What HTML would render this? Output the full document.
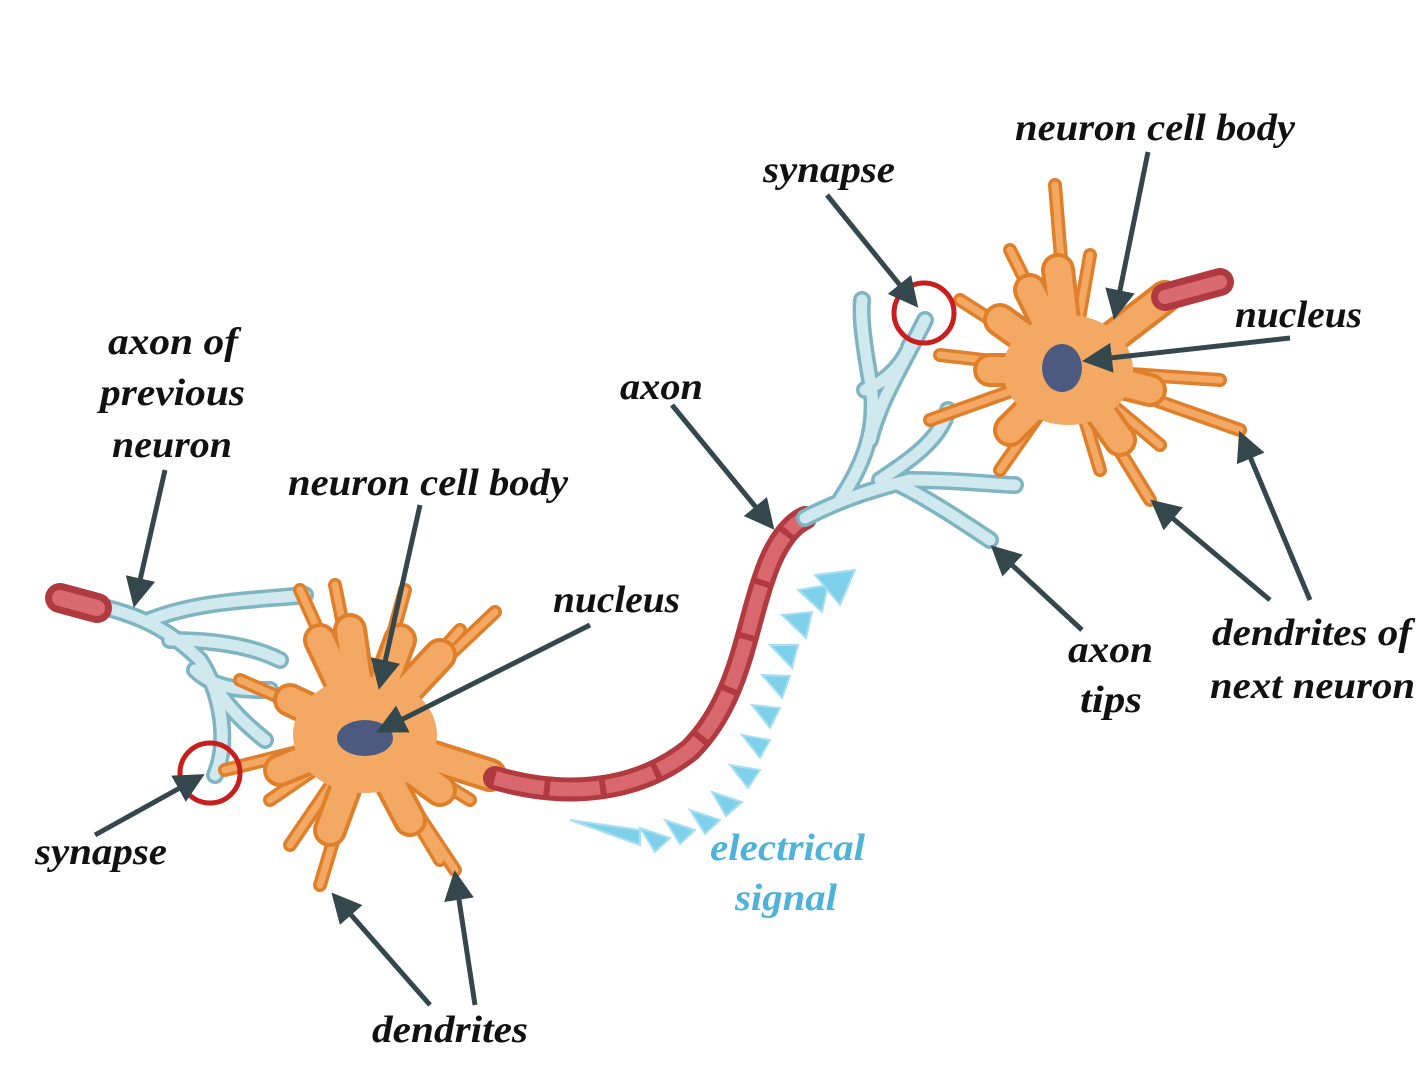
<!DOCTYPE html>
<html><head><meta charset="utf-8"><style>
html,body{margin:0;padding:0;background:#fff;}
svg{display:block}
text{font-family:"Liberation Serif",serif;font-weight:bold;font-style:italic;font-size:38px;fill:#111;}
.b{fill:#4fb3d9}
</style></head><body>
<svg width="1418" height="1075" viewBox="0 0 1418 1075" xmlns="http://www.w3.org/2000/svg">
<defs>
<marker id="ah" markerWidth="6" markerHeight="6" refX="4" refY="3" orient="auto" markerUnits="strokeWidth">
<path d="M0,0 L6,3 L0,6 z" fill="#34474c"/></marker>
</defs>

<g fill="none" stroke-linecap="round" stroke-linejoin="round">
<g stroke="#7fb5c2" stroke-width="18">
<path d="M95,605 C140,615 170,630 200,660 C220,690 230,740 215,775"/>
<path d="M150,620 C200,600 260,600 305,595"/>
<path d="M170,640 C210,640 250,645 280,660"/>
<path d="M200,660 C220,700 240,720 265,740"/>
<path d="M195,670 C215,690 245,690 270,690"/>
</g>
<g stroke="#cfe9ee" stroke-width="11">
<path d="M95,605 C140,615 170,630 200,660 C220,690 230,740 215,775"/>
<path d="M150,620 C200,600 260,600 305,595"/>
<path d="M170,640 C210,640 250,645 280,660"/>
<path d="M200,660 C220,700 240,720 265,740"/>
<path d="M195,670 C215,690 245,690 270,690"/>
</g>
<path d="M60,598 L97,608" stroke="#b03a40" stroke-width="30"/>
<path d="M60,598 L97,608" stroke="#d96a70" stroke-width="16"/>
</g>

<!-- left neuron -->
<g fill="none" stroke-linecap="round" stroke-linejoin="round">
<g stroke="#e07f2a" stroke-width="14">
<path d="M365,735 L300,590 M365,735 L335,585 M365,735 L405,590 M365,735 L495,612 M365,735 L460,630 M365,735 L240,680 M365,735 L225,770 M365,735 L320,885 M365,735 L290,845 M365,735 L440,860 M365,735 L455,870 M365,735 L470,800 M365,735 L270,800"/>
</g>
<g stroke="#f3a863" stroke-width="7">
<path d="M365,735 L300,590 M365,735 L335,585 M365,735 L405,590 M365,735 L495,612 M365,735 L460,630 M365,735 L240,680 M365,735 L225,770 M365,735 L320,885 M365,735 L290,845 M365,735 L440,860 M365,735 L455,870 M365,735 L470,800 M365,735 L270,800"/>
</g>
<g stroke="#e07f2a" stroke-width="34">
<path d="M365,735 L320,640 M365,735 L350,630 M365,735 L400,640 M365,735 L440,655 M365,735 L290,700 M365,735 L280,770 M365,735 L330,830 M365,735 L410,820 M365,735 L440,790 M365,735 L490,775"/>
</g>
<g stroke="#f3a863" stroke-width="26">
<path d="M365,735 L320,640 M365,735 L350,630 M365,735 L400,640 M365,735 L440,655 M365,735 L290,700 M365,735 L280,770 M365,735 L330,830 M365,735 L410,820 M365,735 L440,790 M365,735 L490,775"/>
</g>
</g>
<ellipse cx="365" cy="735" rx="72" ry="58" fill="#f3a863"/>
<ellipse cx="365" cy="738" rx="28" ry="18" fill="#4c5a80"/>

<!-- axon -->
<path d="M495,778 C570,800 640,790 690,750 C740,700 745,630 765,575 C775,545 790,525 805,518" fill="none" stroke="#b03a40" stroke-width="24" stroke-linecap="round"/>
<path d="M495,778 C570,800 640,790 690,750 C740,700 745,630 765,575 C775,545 790,525 805,518" fill="none" stroke="#d9686e" stroke-width="14" stroke-dasharray="50 6"/>

<g fill="none" stroke-linecap="round" stroke-linejoin="round">
<g stroke="#7fb5c2" stroke-width="18">
<path d="M805,518 C840,500 870,490 910,480 C960,480 1000,485 1015,485"/>
<path d="M840,500 C860,470 880,430 870,380 C865,350 860,320 862,300"/>
<path d="M870,440 C880,400 900,370 925,320"/>
<path d="M880,480 C910,460 940,440 948,410"/>
<path d="M900,485 C930,500 960,520 990,540"/>
<path d="M865,390 C890,380 905,360 910,345"/>
</g>
<g stroke="#cfe9ee" stroke-width="11">
<path d="M805,518 C840,500 870,490 910,480 C960,480 1000,485 1015,485"/>
<path d="M840,500 C860,470 880,430 870,380 C865,350 860,320 862,300"/>
<path d="M870,440 C880,400 900,370 925,320"/>
<path d="M880,480 C910,460 940,440 948,410"/>
<path d="M900,485 C930,500 960,520 990,540"/>
<path d="M865,390 C890,380 905,360 910,345"/>
</g>
</g>

<!-- right neuron -->
<g fill="none" stroke-linecap="round" stroke-linejoin="round">
<g stroke="#e07f2a" stroke-width="14">
<path d="M1070,370 L960,300 M1070,370 L1010,250 M1070,370 L1055,185 M1070,370 L1090,255 M1070,370 L1220,380 M1070,370 L1240,430 M1070,370 L1150,500 M1070,370 L1100,470 M1070,370 L1000,470 M1070,370 L930,420 M1070,370 L940,355 M1070,370 L1160,445"/>
</g>
<g stroke="#f3a863" stroke-width="7">
<path d="M1070,370 L960,300 M1070,370 L1010,250 M1070,370 L1055,185 M1070,370 L1090,255 M1070,370 L1220,380 M1070,370 L1240,430 M1070,370 L1150,500 M1070,370 L1100,470 M1070,370 L1000,470 M1070,370 L930,420 M1070,370 L940,355 M1070,370 L1160,445"/>
</g>
<g stroke="#e07f2a" stroke-width="34">
<path d="M1070,370 L1000,320 M1070,370 L1030,290 M1070,370 L1058,270 M1070,370 L1165,297 M1070,370 L1150,390 M1070,370 L1120,440 M1070,370 L1010,430 M1070,370 L990,370"/>
</g>
<g stroke="#f3a863" stroke-width="26">
<path d="M1070,370 L1000,320 M1070,370 L1030,290 M1070,370 L1058,270 M1070,370 L1165,297 M1070,370 L1150,390 M1070,370 L1120,440 M1070,370 L1010,430 M1070,370 L990,370"/>
</g>
<path d="M1165,297 L1220,282" stroke="#b03a40" stroke-width="28"/>
<path d="M1165,297 L1220,282" stroke="#d96a70" stroke-width="14"/>
</g>
<ellipse cx="1068" cy="370" rx="65" ry="55" fill="#f3a863"/>
<ellipse cx="1062" cy="368" rx="20" ry="24" fill="#4c5a80"/>

<circle cx="210" cy="773" r="30" fill="none" stroke="#c81e1e" stroke-width="5"/>
<circle cx="924" cy="313" r="30" fill="none" stroke="#c81e1e" stroke-width="5"/>

<g fill="#7fd0ea" stroke="#a8e0f0" stroke-width="2">
<polygon points="570,820 640,830 640,845"/>
<polygon points="640,828 670,838 655,852"/>
<polygon points="665,820 695,830 680,844"/>
<polygon points="690,810 720,820 705,834"/>
<polygon points="712,792 742,802 726,816"/>
<polygon points="730,765 760,770 748,788"/>
<polygon points="742,735 770,740 760,758"/>
<polygon points="752,705 780,708 770,728"/>
<polygon points="762,675 790,676 782,698"/>
<polygon points="770,645 798,645 792,668"/>
<polygon points="782,615 812,612 806,638"/>
<polygon points="798,590 828,585 822,612"/>
<polygon points="815,575 855,570 840,605"/>
</g>

<g stroke="#34474c" stroke-width="5" fill="none" marker-end="url(#ah)">
<line x1="165" y1="470" x2="136" y2="598"/>
<line x1="420" y1="505" x2="381" y2="680"/>
<line x1="590" y1="625" x2="385" y2="728"/>
<line x1="95" y1="835" x2="196" y2="779"/>
<line x1="430" y1="1005" x2="338" y2="900"/>
<line x1="475" y1="1005" x2="456" y2="880"/>
<line x1="672" y1="405" x2="768" y2="522"/>
<line x1="827" y1="195" x2="912" y2="300"/>
<line x1="1148" y1="152" x2="1116" y2="310"/>
<line x1="1290" y1="338" x2="1092" y2="360"/>
<line x1="1082" y1="630" x2="998" y2="552"/>
<line x1="1270" y1="600" x2="1158" y2="506"/>
<line x1="1310" y1="600" x2="1243" y2="440"/>
</g>

<text x="1015" y="140" textLength="280" lengthAdjust="spacingAndGlyphs">neuron cell body</text>
<text x="763" y="182" textLength="132" lengthAdjust="spacingAndGlyphs">synapse</text>
<text x="1235" y="327" textLength="127" lengthAdjust="spacingAndGlyphs">nucleus</text>
<text x="108" y="354" textLength="130" lengthAdjust="spacingAndGlyphs">axon of</text>
<text x="100" y="405" textLength="145" lengthAdjust="spacingAndGlyphs">previous</text>
<text x="112" y="457" textLength="120" lengthAdjust="spacingAndGlyphs">neuron</text>
<text x="620" y="399" textLength="83" lengthAdjust="spacingAndGlyphs">axon</text>
<text x="288" y="495" textLength="280" lengthAdjust="spacingAndGlyphs">neuron cell body</text>
<text x="553" y="612" textLength="127" lengthAdjust="spacingAndGlyphs">nucleus</text>
<text x="1068" y="662" textLength="85" lengthAdjust="spacingAndGlyphs">axon</text>
<text x="1080" y="712" textLength="62" lengthAdjust="spacingAndGlyphs">tips</text>
<text x="1212" y="645" textLength="200" lengthAdjust="spacingAndGlyphs">dendrites of</text>
<text x="1210" y="698" textLength="205" lengthAdjust="spacingAndGlyphs">next neuron</text>
<text x="35" y="864" textLength="132" lengthAdjust="spacingAndGlyphs">synapse</text>
<text class="b" x="710" y="860" textLength="155" lengthAdjust="spacingAndGlyphs">electrical</text>
<text class="b" x="735" y="910" textLength="102" lengthAdjust="spacingAndGlyphs">signal</text>
<text x="372" y="1042" textLength="156" lengthAdjust="spacingAndGlyphs">dendrites</text>
</svg>
</body></html>
